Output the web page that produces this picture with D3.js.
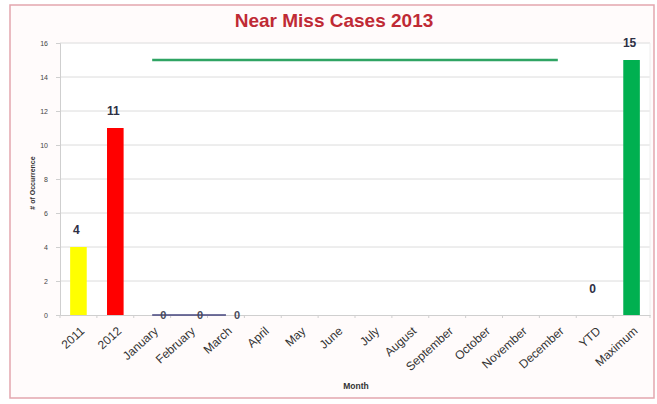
<!DOCTYPE html>
<html>
<head>
<meta charset="utf-8">
<script src="https://cdn.jsdelivr.net/npm/d3@7/dist/d3.min.js"></script>
<style>
  html, body { margin: 0; padding: 0; background: #ffffff; }
  svg { display: block; font-family: Arial, "Liberation Sans", sans-serif; }
</style>
</head>
<body>
<svg id="chart" width="657" height="404"></svg>
<script>
// Categories along the x axis
const categories = ["2011", "2012", "January", "February", "March", "April", "May", "June",
  "July", "August", "September", "October", "November", "December", "YTD", "Maximum"];

// Annual / summary bars
const barCategories = ["2011", "2012", "YTD", "Maximum"];
const barValues = [4, 11, 0, 15];
const barColors = ["#ffff00", "#ff0000", "#00b050", "#00b050"];

// Monthly occurrences reported so far in 2013
const monthCategories = ["January", "February", "March"];
const monthValues = [0, 0, 0];

// Target ceiling line across the months
const targetCategories = ["January", "December"];
const targetValues = [15, 15];

// Y axis ticks
const yTicks = [0, 2, 4, 6, 8, 10, 12, 14, 16];

const svg = d3.select("#chart");
const plot = { left: 60, right: 650, top: 43, bottom: 315 };

// Chart frame
svg.append("rect")
  .attr("x", 10).attr("y", 5).attr("width", 644).attr("height", 393)
  .attr("fill", "#fffbfb").attr("stroke", "#e3a6ae").attr("stroke-width", 1.5);
svg.append("rect")
  .attr("x", plot.left).attr("y", plot.top)
  .attr("width", plot.right - plot.left).attr("height", plot.bottom - plot.top)
  .attr("fill", "#ffffff");

const x = d3.scaleBand().domain(categories).range([plot.left, plot.right]).padding(0);
const y = d3.scaleLinear().domain([0, 16]).range([plot.bottom, plot.top]);
const cx = c => x(c) + x.bandwidth() / 2;

// Gridlines
svg.append("g").selectAll("line").data(yTicks.filter(t => t > 0)).join("line")
  .attr("x1", plot.left).attr("x2", plot.right)
  .attr("y1", d => y(d)).attr("y2", d => y(d))
  .attr("stroke", "#dcdcdc").attr("stroke-width", 1);
svg.append("line")
  .attr("x1", plot.right).attr("x2", plot.right).attr("y1", plot.top).attr("y2", plot.bottom)
  .attr("stroke", "#eeeeee");

// Y axis
const yAxis = svg.append("g").attr("transform", `translate(${plot.left},0)`)
  .call(d3.axisLeft(y).tickValues(yTicks).tickSize(4).tickPadding(8).tickFormat(d3.format("d")));
yAxis.select(".domain").attr("stroke", "#cfcfcf");
yAxis.selectAll(".tick line").attr("stroke", "#cfcfcf");
yAxis.selectAll("text").attr("font-size", 7).attr("fill", "#444");

// X axis
const xAxis = svg.append("g").attr("transform", `translate(0,${plot.bottom})`)
  .call(d3.axisBottom(x).tickSize(0).tickFormat(""));
xAxis.select(".domain").attr("stroke", "#cfcfcf");
svg.append("g").selectAll("line").data(categories.concat(["_end"])).join("line")
  .attr("x1", (d, i) => plot.left + i * x.bandwidth())
  .attr("x2", (d, i) => plot.left + i * x.bandwidth())
  .attr("y1", plot.bottom).attr("y2", plot.bottom + 3)
  .attr("stroke", "#cfcfcf");

svg.append("g").selectAll("text").data(categories).join("text")
  .attr("transform", d => `translate(${cx(d) + 4},${plot.bottom + 14}) rotate(-42)`)
  .attr("text-anchor", "end").attr("dy", "0.35em")
  .attr("font-size", 12).attr("fill", "#333")
  .text(d => d);

// Bars
const bw = x.bandwidth() * 0.45;
svg.append("g").selectAll("rect").data(barCategories).join("rect")
  .attr("x", d => cx(d) - bw / 2)
  .attr("y", (d, i) => y(barValues[i]))
  .attr("width", bw)
  .attr("height", (d, i) => y(0) - y(barValues[i]))
  .attr("fill", (d, i) => barColors[i]);

// Bar value labels
svg.append("g").selectAll("text").data(barCategories).join("text")
  .attr("x", d => cx(d) - 2)
  .attr("y", (d, i) => y(barValues[i]) - (barValues[i] === 0 ? 22 : 13))
  .attr("text-anchor", "middle")
  .attr("font-size", 12).attr("font-weight", "bold").attr("fill", "#2e3045")
  .text((d, i) => barValues[i]);

// Target line
svg.append("path")
  .datum(targetCategories.map((c, i) => [cx(c), y(targetValues[i])]))
  .attr("d", d3.line())
  .attr("fill", "none").attr("stroke", "#2fa463").attr("stroke-width", 2.5);

// Monthly line
svg.append("path")
  .datum(monthCategories.map((c, i) => [cx(c), y(monthValues[i])]))
  .attr("d", d3.line())
  .attr("fill", "none").attr("stroke", "#44447e").attr("stroke-width", 1.5);
svg.append("g").selectAll("text").data(monthCategories).join("text")
  .attr("x", d => cx(d) + 11)
  .attr("y", (d, i) => y(monthValues[i]))
  .attr("dy", "0.35em").attr("text-anchor", "middle")
  .attr("font-size", 11).attr("font-weight", "bold").attr("fill", "#4a4a5a")
  .text((d, i) => monthValues[i]);

// Titles
svg.append("text")
  .attr("x", 334).attr("y", 27).attr("text-anchor", "middle")
  .attr("font-size", 19).attr("font-weight", "bold").attr("fill", "#bf2a35")
  .text("Near Miss Cases 2013");
svg.append("text")
  .attr("transform", "translate(35,183) rotate(-90)")
  .attr("text-anchor", "middle").attr("font-size", 7).attr("font-weight", "bold").attr("fill", "#333")
  .text("# of Occurrence");
svg.append("text")
  .attr("x", 356).attr("y", 389).attr("text-anchor", "middle")
  .attr("font-size", 8.5).attr("font-weight", "bold").attr("fill", "#333")
  .text("Month");
</script>
</body>
</html>
